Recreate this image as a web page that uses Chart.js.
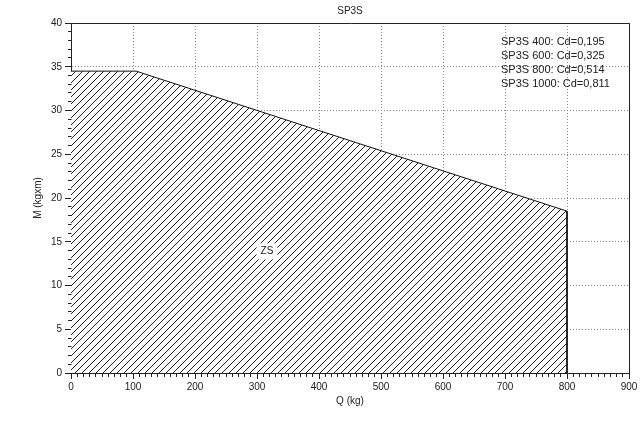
<!DOCTYPE html>
<html><head><meta charset="utf-8">
<script src="https://cdn.jsdelivr.net/npm/chart.js@4/dist/chart.umd.min.js"></script>
<style>html,body{margin:0;padding:0;background:#fff;} canvas{display:block;}</style>
</head><body>
<canvas id="c" width="643" height="421"></canvas>
<script>
// ---- data ----
const loadQ = [0, 105, 800, 800];
const momentM = [34.5, 34.5, 18.5, 0];
const xTickValues = [0, 100, 200, 300, 400, 500, 600, 700, 800, 900];
const yTickValues = [0, 5, 10, 15, 20, 25, 30, 35, 40];
const xMinorStep = 10;
const yMinorStep = 1;
const legendLines = ['SP3S 400: Cd=0,195', 'SP3S 600: Cd=0,325', 'SP3S 800: Cd=0,514', 'SP3S 1000: Cd=0,811'];
const chartTitle = 'SP3S';
const xTitle = 'Q (kg)';
const yTitle = 'M (kgxm)';
const zoneLabel = 'ZS';
const zoneQ = 316;
const zoneM = 13.9;

// ---- styling ----
const FONT = '"Liberation Sans", Arial, Helvetica, sans-serif';
const INK = '#222';

function makeHatch() {
  const p = 7;
  const c = document.createElement('canvas');
  c.width = p; c.height = p;
  const g = c.getContext('2d');
  g.fillStyle = '#fff'; g.fillRect(0, 0, p, p);
  g.strokeStyle = '#222'; g.lineWidth = 1;
  g.beginPath();
  g.moveTo(-1, p + 1); g.lineTo(p + 1, -1);
  g.moveTo(-1, 1); g.lineTo(1, -1);
  g.moveTo(p - 1, p + 1); g.lineTo(p + 1, p - 1);
  g.stroke();
  return g.createPattern(c, 'repeat');
}

function align(chart, px) {
  return Math.round(px - 0.5) + 0.5;
}

const extras = {
  id: 'extras',
  afterDraw(chart) {
    const {ctx, chartArea: a, scales: {x, y}} = chart;
    ctx.save();
    ctx.strokeStyle = INK; ctx.lineWidth = 1;
    const L = align(chart, a.left), R = align(chart, a.right), T = align(chart, a.top), B = align(chart, a.bottom);
    // frame top/right
    ctx.beginPath();
    ctx.moveTo(L, T); ctx.lineTo(R, T); ctx.lineTo(R, B);
    ctx.stroke();
    // minor ticks
    ctx.beginPath();
    for (let v = x.min; v <= x.max; v += xMinorStep) {
      if (xTickValues.includes(v)) continue;
      const px = align(chart, x.getPixelForValue(v));
      ctx.moveTo(px, B); ctx.lineTo(px, B + 3.5);
    }
    for (let v = y.min; v <= y.max; v += yMinorStep) {
      if (yTickValues.includes(v)) continue;
      const py = align(chart, y.getPixelForValue(v));
      ctx.moveTo(L - 3.5, py); ctx.lineTo(L, py);
    }
    ctx.stroke();
    // legend text
    ctx.fillStyle = INK;
    ctx.font = '11px ' + FONT;
    ctx.textAlign = 'left'; ctx.textBaseline = 'middle';
    legendLines.forEach((t, i) => ctx.fillText(t, a.right - 128, a.top + 18.5 + i * 14.3));
    // zone label
    ctx.font = '10px ' + FONT;
    const zx = x.getPixelForValue(zoneQ), zy = y.getPixelForValue(zoneM);
    const w = ctx.measureText(zoneLabel).width;
    ctx.fillStyle = '#fff';
    ctx.fillRect(zx - w / 2 - 4, zy - 8, w + 8, 16);
    ctx.fillStyle = INK; ctx.textAlign = 'center';
    ctx.fillText(zoneLabel, zx, zy);
    ctx.restore();
  }
};

const gridOpts = { color: '#8a8a8a', lineWidth: 1, tickColor: INK, tickLength: 6, tickWidth: 1, drawTicks: true };
const borderOpts = { color: INK, width: 1, dash: [1, 2] };

new Chart(document.getElementById('c'), {
  type: 'line',
  data: {
    datasets: [{
      data: loadQ.map((q, i) => ({x: q, y: momentM[i]})),
      borderColor: '#111',
      borderWidth: 1,
      pointRadius: 0,
      tension: 0,
      fill: 'origin',
      backgroundColor: makeHatch()
    }]
  },
  options: {
    responsive: false,
    animation: false,
    devicePixelRatio: 1,
    layout: { padding: { left: 0, right: 14, top: 0, bottom: 0 } },
    plugins: {
      legend: { display: false },
      tooltip: { enabled: false },
      title: { display: true, fullSize: false, text: chartTitle, color: INK, font: { family: FONT, size: 10, weight: 'normal' }, padding: { top: 5, bottom: 6 } }
    },
    scales: {
      x: {
        type: 'linear', min: 0, max: 900,
        afterBuildTicks: s => { s.ticks = xTickValues.map(v => ({value: v})); },
        afterFit: s => { s.height = 48; },
        ticks: { color: INK, font: { family: FONT, size: 10 }, padding: 2, maxRotation: 0, autoSkip: false },
        grid: gridOpts,
        border: borderOpts,
        title: { display: true, text: xTitle, color: INK, font: { family: FONT, size: 10 }, padding: { top: 0, bottom: 14 } }
      },
      y: {
        type: 'linear', min: 0, max: 40,
        afterBuildTicks: s => { s.ticks = yTickValues.map(v => ({value: v})); },
        afterFit: s => { s.width = 71; },
        ticks: { color: INK, font: { family: FONT, size: 10 }, padding: 3, autoSkip: false },
        grid: gridOpts,
        border: borderOpts,
        title: { display: true, text: yTitle, color: INK, font: { family: FONT, size: 10 }, padding: { top: 32, bottom: 0 } }
      }
    }
  },
  plugins: [extras]
});
</script>
</body></html>
